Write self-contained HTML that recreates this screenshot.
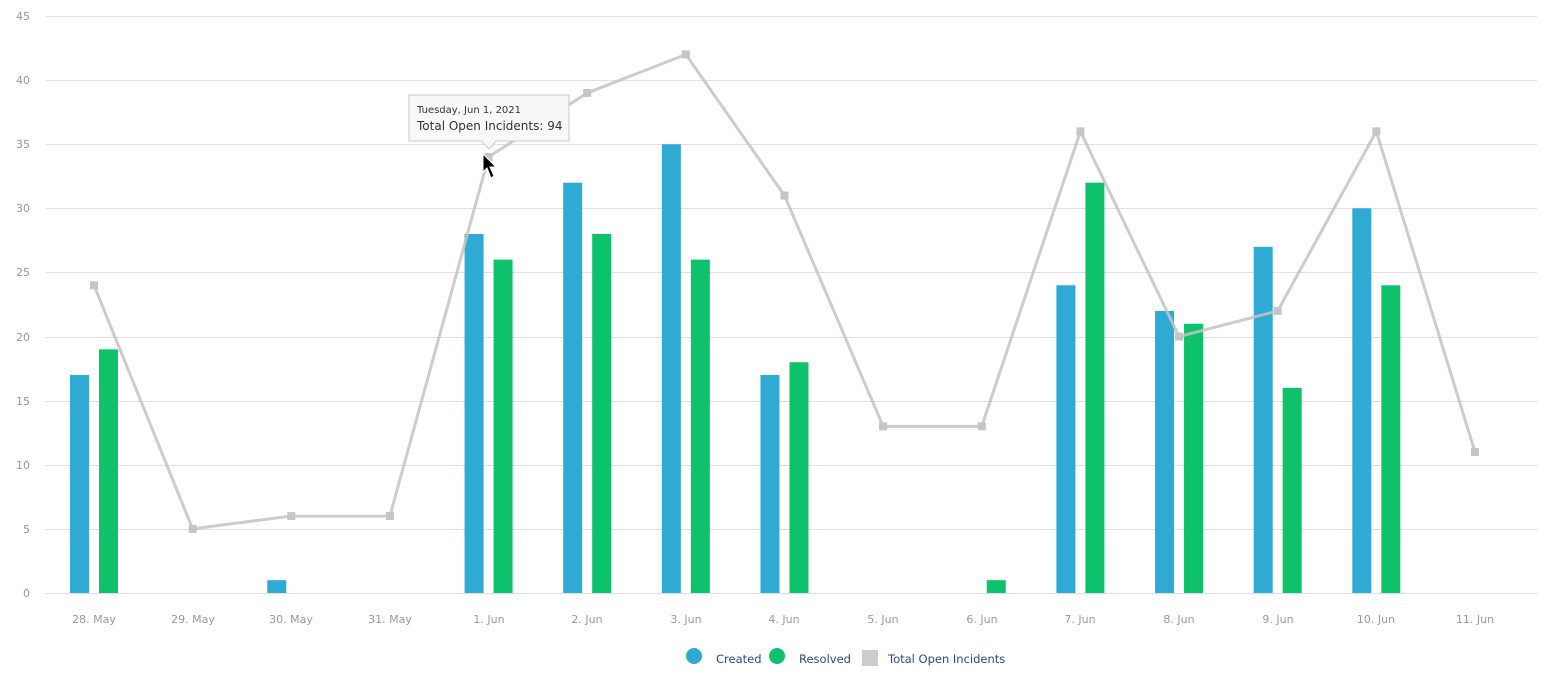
<!DOCTYPE html>
<html><head><meta charset="utf-8"><style>
html,body{margin:0;padding:0;background:#fff;width:1552px;height:679px;overflow:hidden}
svg text{font-family:"DejaVu Sans","Liberation Sans",sans-serif}
</style></head><body>
<svg id="s" width="1552" height="679" xmlns="http://www.w3.org/2000/svg">
<g id="grid" stroke="#e0e0e0" stroke-width="1"></g>
<g font-size="11" fill="#999" text-anchor="end">
<text x="30" y="597">0</text><text x="30" y="533">5</text><text x="30" y="469">10</text>
<text x="30" y="405">15</text><text x="30" y="341">20</text><text x="30" y="276">25</text>
<text x="30" y="212">30</text><text x="30" y="148">35</text><text x="30" y="84">40</text>
<text x="30" y="20">45</text>
</g>
<g font-size="11" fill="#999" text-anchor="middle">
<text x="94" y="623">28. May</text><text x="193" y="623">29. May</text><text x="291" y="623">30. May</text>
<text x="390" y="623">31. May</text><text x="489" y="623">1. Jun</text><text x="587" y="623">2. Jun</text>
<text x="686" y="623">3. Jun</text><text x="784" y="623">4. Jun</text><text x="883" y="623">5. Jun</text>
<text x="982" y="623">6. Jun</text><text x="1080" y="623">7. Jun</text><text x="1179" y="623">8. Jun</text>
<text x="1278" y="623">9. Jun</text><text x="1376" y="623">10. Jun</text><text x="1475" y="623">11. Jun</text>
</g>
<g id="bars"></g>
<g id="line" opacity="0.85"></g>
<g font-size="11.5" fill="#274b8a">
<circle cx="694" cy="656" r="8" fill="#2eaad4"/><text x="716" y="663">Created</text>
<circle cx="777" cy="656" r="8" fill="#0dc26a"/><text x="799" y="663">Resolved</text>
<rect x="862" y="650" width="16" height="16" fill="#ccc"/><text x="888" y="663">Total Open Incidents</text>
</g>
<g>
<path d="M409 95 H569 V141 H496 L489 149 L482 141 H409 Z" fill="#f8f8f8" stroke="#c8c8c8" stroke-width="1"/>
<text x="417" y="113" font-size="10" fill="#333">Tuesday, Jun 1, 2021</text>
<text x="417" y="130" font-size="12" fill="#333">Total Open Incidents: 94</text>
</g>
<path d="M483 154 L483 172 L487 168 L491 178 L494 176 L490 167 L496 167 Z" fill="#000" stroke="#fff" stroke-width="1"/>
</svg>
<script>
var ns="http://www.w3.org/2000/svg";
function el(p,t,a){var e=document.createElementNS(ns,t);for(var k in a)e.setAttribute(k,a[k]);p.appendChild(e);return e;}
function Y(v){return 593-v*12.822;}
function X(i){return 94+i*98.64;}
var g=document.getElementById('grid');
for(var i=0;i<=9;i++){var y=Math.round(Y(i*5))+0.5;el(g,'line',{x1:45,x2:1537,y1:y,y2:y});}
var L=[24,5,6,6,34,39,42,31,13,13,36,20,22,36,11];
var C=[17,0,1,0,28,32,35,17,0,0,24,22,27,30,0];
var R=[19,0,0,0,26,28,26,18,0,1,32,21,16,24,0];
var b=document.getElementById('bars');
for(var i=0;i<15;i++){
 if(C[i])el(b,'rect',{x:X(i)-24,y:Y(C[i]),width:19,height:593-Y(C[i]),fill:'#2eaad4'});
 if(R[i])el(b,'rect',{x:X(i)+5,y:Y(R[i]),width:19,height:593-Y(R[i]),fill:'#0dc26a'});
}
var l=document.getElementById('line');var d='';
for(var i=0;i<15;i++)d+=(i?'L':'M')+X(i)+' '+Y(L[i]);
el(l,'path',{d:d,fill:'none',stroke:'#c4c4c4','stroke-width':3,'stroke-linejoin':'round'});
for(var i=0;i<15;i++)el(l,'rect',{x:X(i)-4,y:Y(L[i])-4,width:8,height:8,fill:'#bbb'});
</script>
</body></html>
